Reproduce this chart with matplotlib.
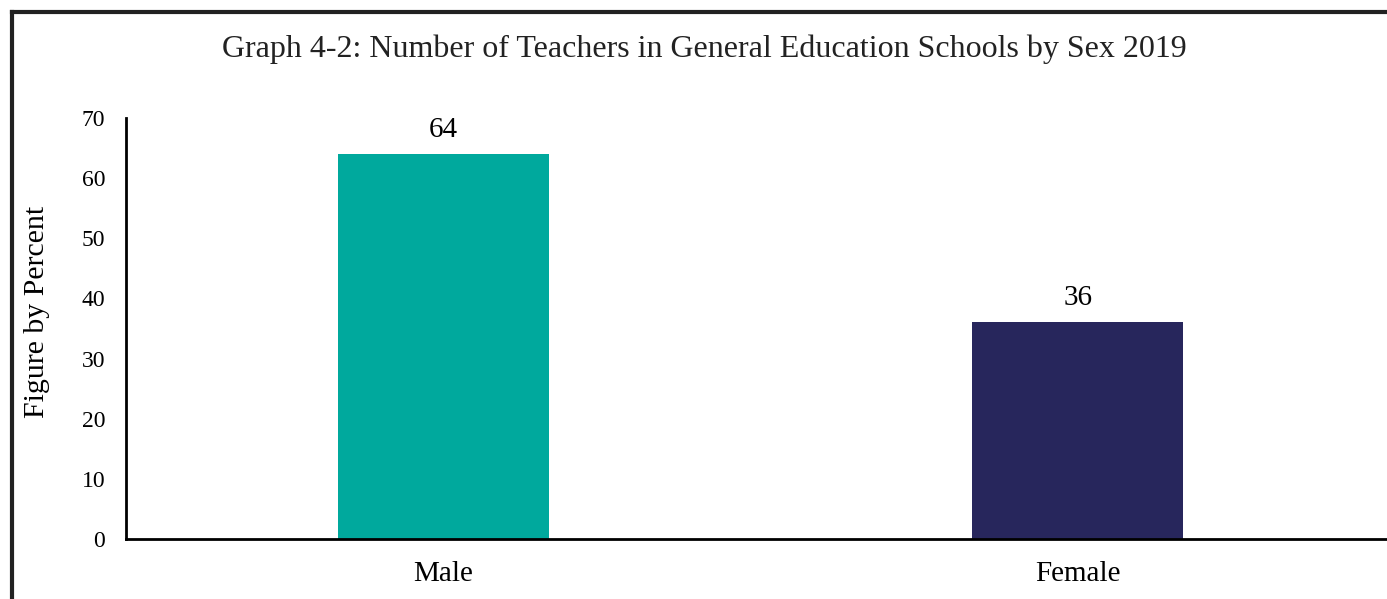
import matplotlib.pyplot as plt
from matplotlib.lines import Line2D

categories = ['Male', 'Female']
values = [64, 36]
colors = ['#00A99D', '#27265C']
title = 'Graph 4-2: Number of Teachers in General Education Schools by Sex 2019'

plt.rcParams['font.family'] = ['Liberation Serif', 'DejaVu Serif']

fig = plt.figure(figsize=(13.87, 5.99), dpi=100)
ax = fig.add_axes([0.0908, 0.1002, 0.915, 0.703])

x = range(len(categories))
bars = ax.bar(x, values, width=0.333, color=colors)
for b, v in zip(bars, values):
    ax.text(b.get_x() + b.get_width() / 2, v + 1.9, str(v), ha='center', va='bottom', fontsize=21)

ax.set_xlim(-0.5, 1.5)
ax.set_ylim(0, 70)
ax.set_yticks(range(0, 71, 10))
ax.set_xticks(list(x))
ax.set_xticklabels(categories)
ax.tick_params(axis='both', length=0)
ax.tick_params(axis='y', pad=15, labelsize=17)
ax.tick_params(axis='x', pad=16, labelsize=21)
ax.spines['top'].set_visible(False)
ax.spines['right'].set_visible(False)
ax.spines['left'].set_linewidth(2)
ax.spines['bottom'].set_linewidth(2)
ax.set_ylabel('Figure by Percent', fontsize=21.5)
ax.yaxis.set_label_coords(-0.06, 0.539)

fig.text(0.508, 0.918, title, ha='center', va='center', fontsize=23, color='#222222')

# outer frame (cropped box)
fig.add_artist(Line2D([0.0087, 1.0], [0.98, 0.98], color='#222222', lw=3))
fig.add_artist(Line2D([0.0087, 0.0087], [0.0, 0.98], color='#222222', lw=3))

fig.savefig('out.png', dpi=100)
